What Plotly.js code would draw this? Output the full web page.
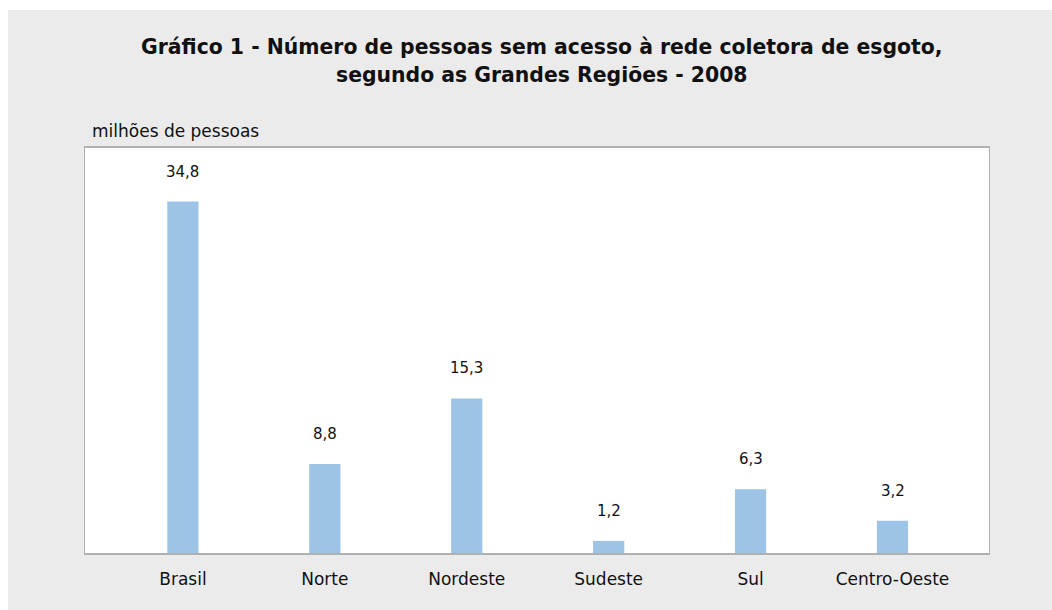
<!DOCTYPE html>
<html><head><meta charset="utf-8">
<script src="https://cdn.plot.ly/plotly-3.0.1.min.js"></script>
<style>
html,body{margin:0;padding:0;background:#ffffff;}
#chart{position:absolute;left:8px;top:10px;width:1044px;height:600px;}
</style></head>
<body><div id="chart"></div>
<script>
const regioes = ["Brasil","Norte","Nordeste","Sudeste","Sul","Centro-Oeste"];
const valores = [34.8, 8.8, 15.3, 1.2, 6.3, 3.2];
const rotulos = ["34,8","8,8","15,3","1,2","6,3","3,2"];
const titulo1 = "Gráfico 1 - Número de pessoas sem acesso à rede coletora de esgoto,";
const titulo2 = "segundo as Grandes Regiões - 2008";
const unidade = "milhões de pessoas";

const FONT = "DejaVu Sans, Liberation Sans, sans-serif";

const trace = {
  type: "bar",
  x: regioes,
  y: valores,
  width: 0.22,
  marker: {color: "#9dc3e6", line: {width: 0}},
  hoverinfo: "skip"
};

const annotations = regioes.map((r, i) => ({
  x: r, y: valores[i], xref: "x", yref: "y",
  text: rotulos[i], showarrow: false,
  yanchor: "bottom", yshift: 19,
  font: {family: FONT, size: 15, color: "#111111"}
}));

annotations.push({
  xref: "paper", yref: "paper", x: 0.006, y: 1, xanchor: "left", yanchor: "middle",
  yshift: 17, showarrow: false, text: unidade,
  font: {family: FONT, size: 17, color: "#111111"}
});
annotations.push({
  xref: "paper", yref: "paper", x: 0.5055, y: 1, xanchor: "center", yanchor: "middle",
  yshift: 101, showarrow: false, text: "<b>" + titulo1 + "</b>",
  font: {family: FONT, size: 20.4, color: "#111111"}
});
annotations.push({
  xref: "paper", yref: "paper", x: 0.5055, y: 1, xanchor: "center", yanchor: "middle",
  yshift: 73, showarrow: false, text: "<b>" + titulo2 + "</b>",
  font: {family: FONT, size: 20.4, color: "#111111"}
});

const layout = {
  width: 1044, height: 600,
  paper_bgcolor: "#ebebeb",
  plot_bgcolor: "#ffffff",
  margin: {l: 77, r: 63, t: 138, b: 57},
  xaxis: {
    type: "category",
    range: [-0.69, 5.68],
    showgrid: false, zeroline: false,
    showline: true, linecolor: "#b0b0b0", linewidth: 2, mirror: true,
    ticks: "", ticklen: 0, ticklabelstandoff: 10,
    tickfont: {family: FONT, size: 17, color: "#111111"}
  },
  yaxis: {
    range: [0, 40.1],
    showgrid: false, zeroline: false,
    showline: true, linecolor: "#b0b0b0", linewidth: 1, mirror: true,
    showticklabels: false, ticks: ""
  },
  annotations: annotations,
  showlegend: false
};

Plotly.newPlot("chart", [trace], layout, {displayModeBar: false, staticPlot: true});
</script></body></html>
